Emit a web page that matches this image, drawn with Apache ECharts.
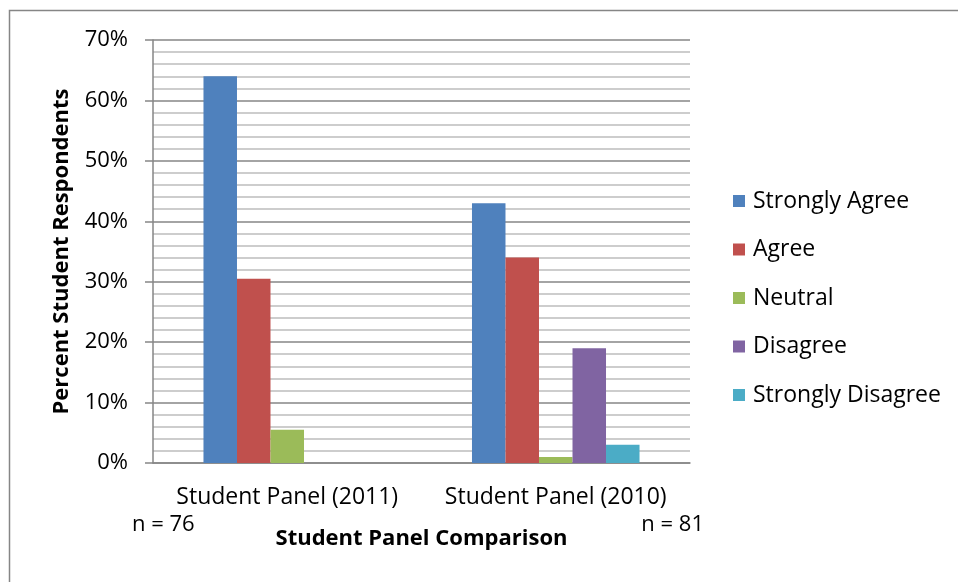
<!DOCTYPE html>
<html>
<head>
<meta charset="utf-8">
<script src="https://cdn.jsdelivr.net/npm/echarts@6/dist/echarts.min.js"></script>
<style>
  html, body { margin: 0; padding: 0; background: #fff; }
  #chart { width: 958px; height: 582px; }
</style>
</head>
<body>
<div id="chart"></div>
<script>
// panels on the x axis
var categories = ["Student Panel (2011)", "Student Panel (2010)"];
// percent of respondents per answer
var stronglyAgree = [64, 43];
var agree = [30.5, 34];
var neutral = [5.5, 1];
var disagree = [0, 19];
var stronglyDisagree = [0, 3];
var seriesNames = ["Strongly Agree", "Agree", "Neutral", "Disagree", "Strongly Disagree"];
var seriesColors = ["#4F81BD", "#C0504D", "#9BBB59", "#8064A2", "#4BACC6"];
// sample sizes written under the axis
var sampleLabels = ["n = 76", "n = 81"];

var font = "'Open Sans', sans-serif";
var allValues = [stronglyAgree, agree, neutral, disagree, stronglyDisagree];

var series = [];
for (var i = 0; i < seriesNames.length; i++) {
  series.push({
    name: seriesNames[i],
    type: "bar",
    data: allValues[i],
    barGap: "0%",
    barCategoryGap: "37.6%",
    itemStyle: { color: seriesColors[i] }
  });
}

var option = {
  backgroundColor: "#fff",
  animation: false,
  grid: { left: 153, right: 268, top: 40, bottom: 119 },
  legend: {
    orient: "vertical",
    left: 733,
    top: 189.5,
    padding: 0,
    icon: "rect",
    itemWidth: 12,
    itemHeight: 12,
    itemGap: 25.5,
    data: seriesNames,
    textStyle: { fontFamily: font, fontSize: 23, color: "#000", lineHeight: 23, padding: [0, 0, 0, 3] }
  },
  xAxis: {
    type: "category",
    data: categories,
    name: "Student Panel Comparison",
    nameLocation: "middle",
    nameGap: 65,
    nameTextStyle: { fontFamily: font, fontSize: 22, fontWeight: "bold", color: "#000" },
    axisLine: { lineStyle: { color: "#868686", width: 1.5 } },
    axisTick: { show: false },
    axisLabel: { fontFamily: font, fontSize: 23, color: "#000", margin: 23, interval: 0, hideOverlap: false }
  },
  yAxis: {
    type: "value",
    min: 0,
    max: 70,
    interval: 10,
    name: "Percent Student Respondents",
    nameLocation: "middle",
    nameGap: 80,
    nameTextStyle: { fontFamily: font, fontSize: 22, fontWeight: "bold", color: "#000" },
    axisLine: { show: true, lineStyle: { color: "#868686", width: 1.5 } },
    axisTick: { show: true, length: 8, lineStyle: { color: "#868686", width: 1.5 } },
    axisLabel: { fontFamily: font, fontSize: 22, color: "#000", margin: 25, formatter: "{value}%" },
    splitLine: { show: true, lineStyle: { color: "#868686", width: 1.5 } },
    minorTick: { show: false, splitNumber: 5 },
    minorSplitLine: { show: true, lineStyle: { color: "#bdbdbd", width: 1.5 } }
  },
  graphic: [
    {
      type: "rect",
      shape: { x: 9.5, y: 10.5, width: 980, height: 600 },
      style: { fill: "none", stroke: "#868686", lineWidth: 1.5 },
      silent: true
    },
    {
      type: "text",
      left: 132,
      top: 514,
      style: { text: sampleLabels[0], fontFamily: font, fontSize: 22, fill: "#000" }
    },
    {
      type: "text",
      right: 958 - 704,
      top: 514,
      style: { text: sampleLabels[1], fontFamily: font, fontSize: 22, fill: "#000" }
    }
  ],
  series: series
};

var myChart = echarts.init(document.getElementById("chart"));
myChart.setOption(option);
</script>
</body>
</html>
